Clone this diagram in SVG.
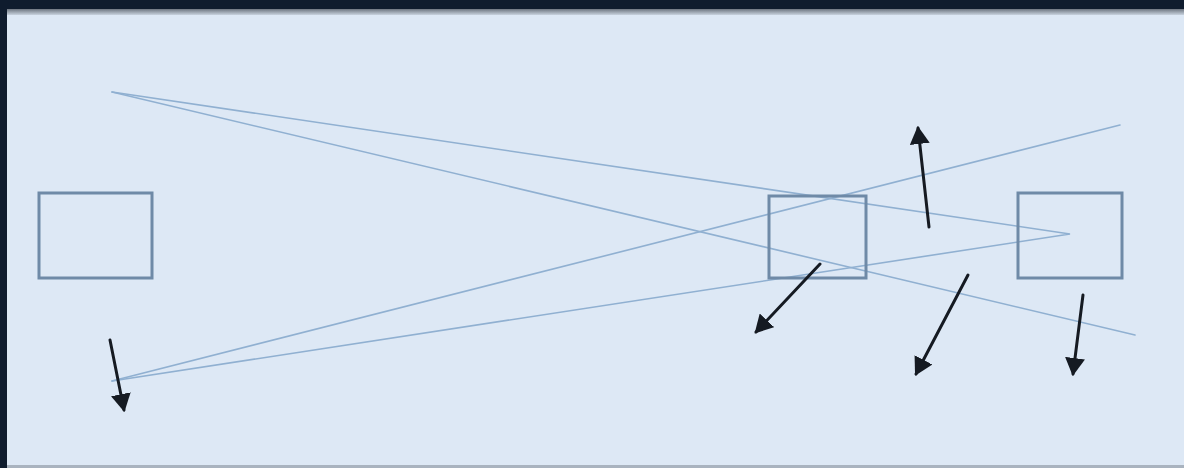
<svg xmlns="http://www.w3.org/2000/svg" width="1184" height="468" viewBox="0 0 1184 468">
  <defs>
    <style>
      .box { fill: none; stroke: #6f8aa7; stroke-width: 3; }
      .ln { fill: none; stroke: #90b0d1; stroke-width: 1.6; stroke-linecap: round; }
      .arr { fill: none; stroke: #151a22; stroke-width: 3; stroke-linecap: round; marker-end: url(#head); }
    </style>
    <marker id="head" viewBox="0 0 10 10" refX="8" refY="5" markerWidth="6.67" markerHeight="6.67" orient="auto" markerUnits="strokeWidth">
      <path d="M0,0 L9,5 L0,10 Z" fill="#151a22"/>
    </marker>
    <linearGradient id="topband" x1="0" y1="0" x2="0" y2="1">
      <stop offset="0" stop-color="#6d7580"/>
      <stop offset="1" stop-color="#c8d2de"/>
    </linearGradient>
  </defs>
  <rect x="0" y="0" width="1184" height="468" fill="#dde8f5"/>
  <rect x="0" y="0" width="1184" height="9" fill="#0f1c2e"/>
  <rect x="0" y="9" width="1184" height="6" fill="url(#topband)"/>
  <rect x="0" y="0" width="7" height="468" fill="#0f1c2e"/>
  <rect x="7" y="465" width="1177" height="3" fill="#a9b3bf"/>

  <g id="connectors">
    <polyline class="ln" points="112,92 1070,234 112,381"/>
    <line class="ln" x1="112" y1="92" x2="1135" y2="335"/>
    <line class="ln" x1="112" y1="381" x2="1120" y2="125"/>
  </g>

  <g id="node-left"><rect class="box" x="39" y="193" width="113" height="85" fill="#e0eaf6"/></g>
  <g id="node-middle"><rect class="box" x="769" y="196" width="97" height="82"/></g>
  <g id="node-right"><rect class="box" x="1018" y="193" width="104" height="85"/></g>

  <g id="arrows">
    <line class="arr" x1="110" y1="340" x2="124" y2="410"/>
    <line class="arr" x1="929" y1="227" x2="918" y2="128"/>
    <line class="arr" x1="820" y1="264" x2="756" y2="332"/>
    <line class="arr" x1="968" y1="275" x2="916" y2="374"/>
    <line class="arr" x1="1083" y1="295" x2="1073" y2="374"/>
  </g>
</svg>
